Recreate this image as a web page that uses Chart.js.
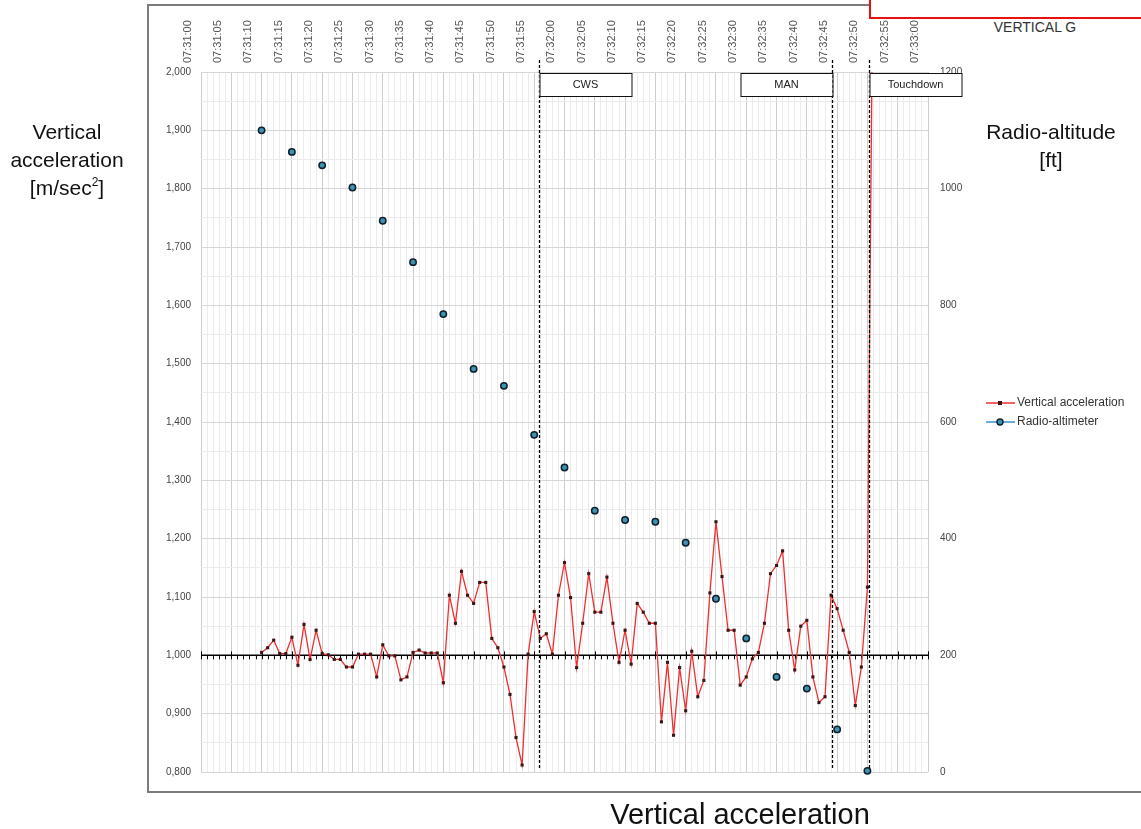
<!DOCTYPE html>
<html>
<head>
<meta charset="utf-8">
<title>Vertical acceleration</title>
<script src="https://cdn.jsdelivr.net/npm/chart.js@4.4.0/dist/chart.umd.min.js"></script>
<style>
    html, body { margin: 0; padding: 0; background: #fff; }
    body { width: 1141px; height: 829px; position: relative; overflow: hidden; }
    #chart { position: absolute; left: 0; top: 0; }
    .line { position: absolute; }
    .title {
        position: absolute;
        color: #111;
        text-align: center;
        font-family: 'Liberation Sans Narrow', 'Arial Narrow', 'Liberation Sans', Arial, sans-serif;
        font-size: 21px;
        line-height: 28px;
    }
    .title sup { font-size: 12px; vertical-align: 9px; line-height: 0; }
</style>
</head>
<body>
<div class="line" style="left:147px; top:4px; width:2px; height:789px; background:#7c7c7c"></div>
<div class="line" style="left:147px; top:4px; width:723px; height:2px; background:#7c7c7c"></div>
<div class="line" style="left:147px; top:791px; width:994px; height:2px; background:#7c7c7c"></div>
<div class="line" style="left:869px; top:0; width:2px; height:19px; background:#e81010"></div>
<div class="line" style="left:869px; top:17px; width:272px; height:2px; background:#e81010"></div>
<div style="position:absolute; left:960px; top:19px; width:150px; text-align:center; font:14px 'Liberation Sans', Arial, sans-serif; color:#333">VERTICAL G</div>

<canvas id="chart" width="1141" height="829"></canvas>

<div class="title" style="left:0; top:118px; width:134px">Vertical<br>acceleration<br>[m/sec<sup>2</sup>]</div>
<div class="title" style="left:980px; top:118px; width:142px">Radio-altitude<br>[ft]</div>
<div class="title" style="left:590px; top:797px; width:300px; font-size:29px; line-height:34px">Vertical acceleration</div>

<script>
// time axis: seconds after 07:31:00
const timeTicks = ['07:31:00', '07:31:05', '07:31:10', '07:31:15', '07:31:20', '07:31:25',
    '07:31:30', '07:31:35', '07:31:40', '07:31:45', '07:31:50', '07:31:55',
    '07:32:00', '07:32:05', '07:32:10', '07:32:15', '07:32:20', '07:32:25',
    '07:32:30', '07:32:35', '07:32:40', '07:32:45', '07:32:50', '07:32:55', '07:33:00'];

const accelTime = [10, 11, 12, 13, 14, 15, 16, 17, 18, 19,
    20, 21, 22, 23, 24, 25, 26, 27, 28, 29,
    30, 31, 32, 33, 34, 35, 36, 37, 38, 39,
    40, 41, 42, 43, 44, 45, 46, 47, 48, 49,
    50, 51, 52, 53, 54, 55, 56, 57, 58, 59,
    60, 61, 62, 63, 64, 65, 66, 67, 68, 69,
    70, 71, 72, 73, 74, 75, 76, 77, 78, 79,
    80, 81, 82, 83, 84, 85, 86, 87, 88, 89,
    90, 91, 92, 93, 94, 95, 96, 97, 98, 99,
    100, 101, 102, 103, 104, 105, 106, 107, 108, 109,
    110, 111];
const accelValues = [1.005, 1.013, 1.026, 1.003, 1.003, 1.031, 0.983, 1.053, 0.993, 1.043,
    1.003, 1.001, 0.993, 0.993, 0.980, 0.980, 1.002, 1.002, 1.002, 0.963,
    1.018, 0.999, 0.999, 0.958, 0.963, 1.005, 1.009, 1.004, 1.004, 1.004,
    0.953, 1.103, 1.055, 1.144, 1.103, 1.089, 1.125, 1.125, 1.029, 1.013,
    0.980, 0.933, 0.859, 0.812, 1.002, 1.075, 1.029, 1.037, 1.002, 1.103,
    1.159, 1.099, 0.979, 1.055, 1.140, 1.074, 1.074, 1.134, 1.055, 0.988,
    1.043, 0.985, 1.089, 1.074, 1.055, 1.055, 0.886, 0.988, 0.863, 0.979,
    0.905, 1.007, 0.929, 0.957, 1.107, 1.229, 1.135, 1.043, 1.043, 0.949,
    0.963, 0.994, 1.005, 1.055, 1.140, 1.154, 1.179, 1.043, 0.975, 1.050,
    1.060, 0.963, 0.919, 0.929, 1.103, 1.080, 1.043, 1.005, 0.914, 0.980,
    1.117, 2.300];

const radioTime = [10, 15, 20, 25, 30, 35, 40, 45, 50, 55,
    60, 65, 70, 75, 80, 85, 90, 95, 100, 105, 110];
const radioValues = [1100, 1063, 1040, 1002, 945, 874, 785, 691, 662, 578,
    522, 448, 432, 429, 393, 297, 229, 163, 143, 73, 2];

const eventTimes = [55.8, 104.2, 110.3];
const eventLabels = ['CWS', 'MAN', 'Touchdown'];

const legendItems = ['Vertical acceleration', 'Radio-altimeter'];

const RED = '#ee2f2f';
const BLUE = '#3b8fc4';

// black reference line at 1.000 with second ticks
const baseLinePlugin = {
    id: 'baseLine',
    beforeDatasetsDraw(chart) {
        const ctx = chart.ctx;
        const x = chart.scales.x;
        const y = chart.scales.y.getPixelForValue(1.0);
        const area = chart.chartArea;
        ctx.save();
        ctx.strokeStyle = '#000';
        ctx.lineWidth = 1.5;
        ctx.beginPath();
        ctx.moveTo(area.left, y);
        ctx.lineTo(area.right, y);
        ctx.stroke();
        ctx.lineWidth = 1;
        ctx.beginPath();
        for (let s = 0; s <= 120; s++) {
            const px = Math.round(x.getPixelForValue(s)) + 0.5;
            if (s % 5 === 0) {
                ctx.moveTo(px, y - 4);
                ctx.lineTo(px, y + 4);
            } else {
                ctx.moveTo(px, y);
                ctx.lineTo(px, y + 4);
            }
        }
        ctx.stroke();
        ctx.restore();
    }
};

// dashed event markers with their label boxes
const eventPlugin = {
    id: 'events',
    afterDraw(chart) {
        const ctx = chart.ctx;
        const x = chart.scales.x;
        const area = chart.chartArea;
        ctx.save();
        eventTimes.forEach((t, i) => {
            const px = Math.round(x.getPixelForValue(t)) + 0.5;
            ctx.strokeStyle = '#000';
            ctx.lineWidth = 1.3;
            ctx.setLineDash([3, 2]);
            ctx.beginPath();
            ctx.moveTo(px, area.top - 12);
            ctx.lineTo(px, area.bottom - 4);
            ctx.stroke();
            ctx.setLineDash([]);

            const w = 92;
            const left = eventLabels[i] === 'MAN' ? px - w : px;
            ctx.fillStyle = '#fff';
            ctx.fillRect(left, area.top + 1, w, 23);
            ctx.lineWidth = 1;
            ctx.strokeStyle = '#111';
            ctx.strokeRect(left + 0.5, area.top + 1.5, w, 23);
            ctx.fillStyle = '#222';
            ctx.font = '11px "Liberation Sans", Arial, sans-serif';
            ctx.textAlign = 'center';
            ctx.textBaseline = 'middle';
            ctx.fillText(eventLabels[i], left + w / 2, area.top + 13);
        });
        ctx.restore();
    }
};

// legend to the right of the plot
const legendPlugin = {
    id: 'sideLegend',
    afterDraw(chart) {
        const ctx = chart.ctx;
        const x0 = 986, ys = [403, 422];
        ctx.save();
        ctx.font = '12px "Liberation Sans", Arial, sans-serif';
        ctx.textBaseline = 'middle';
        ctx.textAlign = 'left';
        legendItems.forEach((label, i) => {
            const y = ys[i];
            ctx.strokeStyle = i === 0 ? RED : BLUE;
            ctx.lineWidth = 1.5;
            ctx.beginPath();
            ctx.moveTo(x0, y);
            ctx.lineTo(x0 + 29, y);
            ctx.stroke();
            if (i === 0) {
                ctx.fillStyle = '#3a1515';
                ctx.fillRect(x0 + 12, y - 2, 4, 4);
            } else {
                ctx.beginPath();
                ctx.arc(x0 + 14, y, 3, 0, Math.PI * 2);
                ctx.fillStyle = '#3d93b0';
                ctx.fill();
                ctx.strokeStyle = '#10202c';
                ctx.lineWidth = 1.4;
                ctx.stroke();
            }
            ctx.fillStyle = '#333';
            ctx.fillText(label, x0 + 31, y);
        });
        ctx.restore();
    }
};

function isTenth(v) {
    return Math.abs(v * 10 - Math.round(v * 10)) < 1e-6;
}

const tickFont = { family: '"Liberation Sans", Arial, sans-serif', size: 10 };

new Chart(document.getElementById('chart'), {
    type: 'line',
    data: {
        datasets: [{
            label: legendItems[0],
            data: accelTime.map((t, i) => ({ x: t, y: accelValues[i] })),
            yAxisID: 'y',
            borderColor: RED,
            borderWidth: 1.3,
            pointStyle: 'rect',
            pointRadius: 2.2,
            pointBackgroundColor: '#3a1515',
            pointBorderWidth: 0,
            tension: 0,
            order: 1
        }, {
            label: legendItems[1],
            data: radioTime.map((t, i) => ({ x: t, y: radioValues[i] })),
            yAxisID: 'y2',
            showLine: false,
            pointRadius: 3.2,
            pointBackgroundColor: '#3d93b0',
            pointBorderColor: '#10202c',
            pointBorderWidth: 1.5,
            clip: 6,
            order: 2
        }]
    },
    options: {
        responsive: false,
        animation: false,
        layout: { padding: { left: 150, right: 163, top: 0, bottom: 57 } },
        plugins: {
            legend: { display: false },
            tooltip: { enabled: false }
        },
        scales: {
            x: {
                type: 'linear',
                position: 'top',
                min: 0,
                max: 120,
                afterFit: s => { s.height = 72; },
                ticks: {
                    stepSize: 1,
                    autoSkip: false,
                    minRotation: 90,
                    maxRotation: 90,
                    padding: 9,
                    color: '#555',
                    font: { family: '"Liberation Sans", Arial, sans-serif', size: 11 },
                    callback: v => (v % 5 === 0 ? timeTicks[v / 5] : '')
                },
                grid: {
                    drawTicks: false,
                    color: c => (c.tick && c.tick.value % 5 === 0 ? '#cdcdcd' : '#ebebeb')
                },
                border: { display: false }
            },
            y: {
                position: 'left',
                min: 0.8,
                max: 2.0,
                afterFit: s => { s.width = 51; },
                ticks: {
                    stepSize: 0.05,
                    padding: 10,
                    color: '#444',
                    font: tickFont,
                    callback: v => (isTenth(v) ? v.toFixed(3).replace('.', ',') : '')
                },
                grid: {
                    drawTicks: false,
                    color: c => (c.tick && isTenth(c.tick.value) ? '#d6d6d6' : '#ececec')
                },
                border: { display: false }
            },
            y2: {
                position: 'right',
                min: 0,
                max: 1200,
                afterFit: s => { s.width = 50; },
                ticks: {
                    stepSize: 200,
                    padding: 12,
                    color: '#444',
                    font: tickFont,
                    callback: v => String(v)
                },
                grid: { drawOnChartArea: false, drawTicks: false },
                border: { display: false }
            }
        }
    },
    plugins: [baseLinePlugin, eventPlugin, legendPlugin]
});
</script>
</body>
</html>
